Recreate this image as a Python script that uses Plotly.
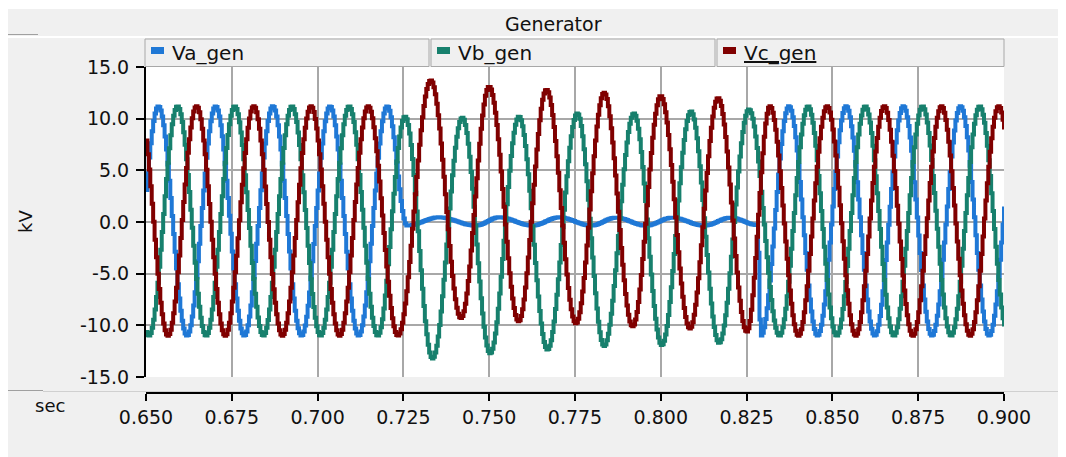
import numpy as np
import plotly.graph_objects as go

# ---------------- data ----------------
# extrema (peak / trough) times [s] and values [kV] of each phase voltage
va_t = [0.6451, 0.65345, 0.66178, 0.67012, 0.67845, 0.68678, 0.69512, 0.70345, 0.71178, 0.72012,
        0.7259, 0.7352, 0.7459, 0.7527, 0.7624, 0.7702, 0.7795, 0.7867, 0.7955, 0.8032, 0.8124, 0.8202, 0.8280,
        0.8290, 0.83717, 0.84550, 0.85383, 0.86217, 0.87050, 0.87883, 0.88717, 0.89550, 0.90383]
va_v = [-11.0, 11.2, -11.0, 11.2, -11.0, 11.2, -11.0, 11.2, -11.0, 11.2,
        -0.35, 0.45, -0.35, 0.45, -0.35, 0.45, -0.35, 0.42, -0.35, 0.42, -0.35, 0.42, -0.3,
        -11.0, 11.2, -11.0, 11.2, -11.0, 11.2, -11.0, 11.2, -11.0, 11.2]

vb_t = [0.64234, 0.65067, 0.65901, 0.66734, 0.67567, 0.68401, 0.69234, 0.70067, 0.70901, 0.71734, 0.7253,
        0.7333, 0.7420, 0.7501, 0.7585, 0.7668, 0.7755, 0.7833, 0.7920, 0.8001, 0.8086, 0.8168, 0.8255,
        0.8344, 0.84273, 0.85107, 0.8594, 0.86773, 0.87607, 0.8844, 0.89273, 0.90107]
vb_v = [11.2, -11.0, 11.2, -11.0, 11.2, -11.0, 11.2, -11.0, 11.2, -11.0, 10.2,
        -13.2, 10.1, -12.7, 10.2, -12.35, 10.5, -12.0, 10.5, -11.9, 10.7, -11.7, 10.9,
        -11.0, 11.2, -11.0, 11.2, -11.0, 11.2, -11.0, 11.2, -11.0]

vc_t = [0.6479, 0.65623, 0.66456, 0.6729, 0.68123, 0.68956, 0.6979, 0.70623, 0.71456, 0.7232,
        0.7328, 0.7416, 0.7498, 0.7584, 0.7665, 0.7751, 0.7833, 0.7916, 0.7998, 0.8083, 0.8165, 0.8249,
        0.83161, 0.83994, 0.84828, 0.85661, 0.86494, 0.87327, 0.88161, 0.88994, 0.89828, 0.90661]
vc_v = [11.2, -11.0, 11.2, -11.0, 11.2, -11.0, 11.2, -11.0, 11.2, -11.0,
        13.7, -9.3, 13.1, -9.6, 12.8, -9.8, 12.5, -10.1, 12.2, -10.3, 12.0, -10.6,
        11.2, -11.0, 11.2, -11.0, 11.2, -11.0, 11.2, -11.0, 11.2, -11.0]

series_names = ["Va_gen", "Vb_gen", "Vc_gen"]
series_colors = ["#1f78d6", "#17806d", "#800000"]
x_ticks = [0.650, 0.675, 0.700, 0.725, 0.750, 0.775, 0.800, 0.825, 0.850, 0.875, 0.900]
y_ticks = [-15.0, -10.0, -5.0, 0.0, 5.0, 10.0, 15.0]
sample_rate = 2400.0  # plot output rate (staircase)

# ---------------- build staircase samples ----------------
ts = x_ticks[0] + np.arange(int(round((x_ticks[-1] - x_ticks[0]) * sample_rate)) + 1) / sample_rate


def wave(tk, vk, t):
    tk = np.asarray(tk); vk = np.asarray(vk)
    i = np.clip(np.searchsorted(tk, t, side="right") - 1, 0, len(tk) - 2)
    f = (t - tk[i]) / (tk[i + 1] - tk[i])
    return vk[i] + (vk[i + 1] - vk[i]) * (1 - np.cos(np.pi * f)) / 2


ys = [wave(va_t, va_v, ts), wave(vb_t, vb_v, ts), wave(vc_t, vc_v, ts)]

# ---------------- geometry helpers (reference pixels -> paper) ----------------
OFF = 8                      # page body margin of the browser
FW, FH = 1066 - OFF, 457 - OFF
BOTTOM = OFF + FH            # reference-pixel y of figure bottom
L, R, T, B = 146, 1004, 67, 393   # reference-pixel positions


def px(x):
    return (x - L) / (R - L)


def py(y):
    return (B - y) / (B - T)


fig = go.Figure()
for name, col, y in zip(series_names, series_colors, ys):
    fig.add_trace(go.Scatter(x=ts, y=y, mode="lines", name=name,
                             line=dict(color=col, width=4, shape="hv"),
                             showlegend=False))

FONT = "DejaVu Sans"
GRID = "#a8a8a8"
TXT = "#111111"

fig.update_layout(
    width=FW, height=FH,
    margin=dict(l=L - OFF, r=1066 - R, t=T - OFF, b=BOTTOM - B, pad=0),
    paper_bgcolor="#f0f0f0", plot_bgcolor="white",
    font=dict(family=FONT, size=19, color=TXT),
    xaxis=dict(range=[x_ticks[0], x_ticks[-1]], tickvals=x_ticks, showticklabels=False,
               showgrid=True, gridcolor=GRID, gridwidth=2, zeroline=False, ticks="",
               showline=False, anchor="y"),
    xaxis2=dict(range=[x_ticks[0], x_ticks[-1]], overlaying="x", anchor="free", position=0,
                side="bottom", tickvals=x_ticks, ticktext=["%.3f" % v for v in x_ticks],
                showgrid=False, zeroline=False, showline=True, linecolor="black", linewidth=2,
                ticks="outside", ticklen=7, tickwidth=2, tickcolor="black",
                tickfont=dict(family=FONT, size=19, color=TXT)),
    yaxis=dict(range=[-15, 15], domain=[(B - 377) / (B - T), 1], tickvals=y_ticks,
               ticktext=["%.1f" % v for v in y_ticks],
               showgrid=True, gridcolor=GRID, gridwidth=2, zeroline=False,
               showline=True, linecolor="black", linewidth=2,
               ticks="outside", ticklen=8, tickwidth=2, tickcolor="black",
               ticklabelstandoff=3,
               tickfont=dict(family=FONT, size=19, color=TXT)),
)
# invisible trace so xaxis2 is realised
fig.add_trace(go.Scatter(x=[x_ticks[0]], y=[0], xaxis="x2", mode="markers",
                         marker=dict(opacity=0), showlegend=False, hoverinfo="skip"))

shapes = []


def rect(x0, y0, x1, y1, fill, line=None, lw=0, layer="above"):
    shapes.append(dict(type="rect", xref="paper", yref="paper",
                       x0=px(x0), x1=px(x1), y0=py(y1), y1=py(y0),
                       fillcolor=fill, line=dict(color=line or fill, width=lw), layer=layer))


def hline(x0, x1, y, col, lw=1):
    shapes.append(dict(type="line", xref="paper", yref="paper",
                       x0=px(x0), x1=px(x1), y0=py(y), y1=py(y),
                       line=dict(color=col, width=lw), layer="above"))


# top white strip (1px more than page margin)
rect(0, 0, 1066, 9, "white")
# title band separators
hline(0, 38, 34.5, "#a0a0a0", 1)
hline(0, 1066, 37, "white", 2)
# separator between plot panel and x-axis panel
hline(0, 43, 390.5, "#a0a0a0", 1)
hline(43, 1066, 391.5, "#d0d0d0", 1)

# legend boxes
boxes = [(145, 429), (431, 715), (717, 1004)]
annotations = []
for (bx0, bx1), name, col in zip(boxes, series_names, series_colors):
    rect(bx0, 39, bx1, 66.5, "#f0f0f0", "#a8a8a8", 1)
    rect(bx0 + 6, 47, bx0 + 19, 54, col)
    label = "<u>%s</u>" % name if name == "Vc_gen" else name
    annotations.append(dict(xref="paper", yref="paper", x=px(bx0 + 25), y=py(53),
                            text=label, showarrow=False, xanchor="left", yanchor="middle",
                            font=dict(family=FONT, size=20, color=TXT)))

annotations += [
    dict(xref="paper", yref="paper", x=px(553), y=py(24), text="Generator", showarrow=False,
         xanchor="center", yanchor="middle", font=dict(family=FONT, size=19, color=TXT)),
    dict(xref="paper", yref="paper", x=px(25), y=py(222), text="kV", showarrow=False, textangle=-90,
         xanchor="center", yanchor="middle", font=dict(family=FONT, size=18, color=TXT)),
    dict(xref="paper", yref="paper", x=px(50), y=py(405), text="sec", showarrow=False,
         xanchor="center", yanchor="middle", font=dict(family=FONT, size=18, color=TXT)),
]

fig.update_layout(shapes=shapes, annotations=annotations)
fig.write_html("out.html")
